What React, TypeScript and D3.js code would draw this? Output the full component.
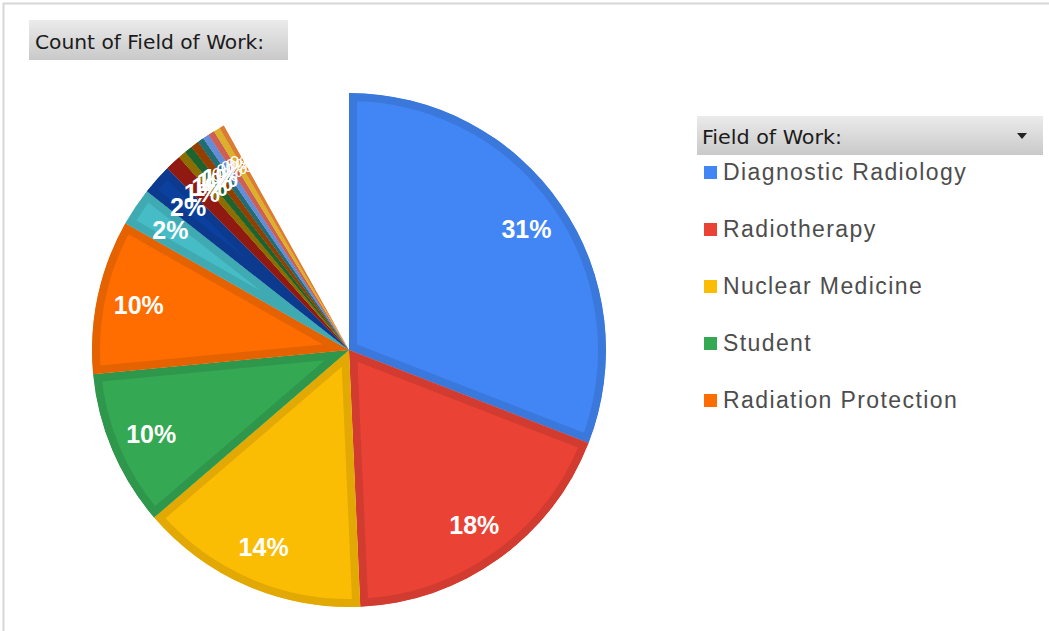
import React, { Component } from "react";
import * as d3 from "d3";

// counts per field of work (total 1000)
const categories = [
	"Diagnostic Radiology",
	"Radiotherapy",
	"Nuclear Medicine",
	"Student",
	"Radiation Protection",
	"Medical Physics",
	"Research",
	"Education",
	"Industry",
	"Regulatory",
	"Engineering",
	"Academia",
	"Veterinary",
	"Dentistry",
	"Management",
	"Other",
	"(blank)",
];
const counts = [309, 184, 144, 98, 97, 24, 19, 10, 5, 5, 5, 4, 4, 4, 4, 3, 81];
const colors = [
	"#4285F4",
	"#EA4335",
	"#FBBC04",
	"#34A853",
	"#FF6D01",
	"#46BDC6",
	"#0C409F",
	"#A01C14",
	"#9C7A00",
	"#1F6E34",
	"#A54600",
	"#26787F",
	"#6E9DF0",
	"#E46A5E",
	"#F4C430",
	"#F58A3A",
	"#FFFFFF",
];
const legendCount = 5;
const chartTitle = "Count of Field of Work:";
const legendTitle = "Field of Work:";

class App extends Component {
	constructor(props) {
		super(props);
		this.ref = React.createRef();
	}

	componentDidMount() {
		this.renderChart();
	}

	renderChart() {
		const width = 1049;
		const height = 631;
		const cx = 349;
		const cy = 350;
		const radius = 257;

		const root = d3.select(this.ref.current);
		root.selectAll("*").remove();

		const svg = root
			.append("svg")
			.attr("width", width)
			.attr("height", height)
			.style("display", "block");

		// frame
		svg.append("path")
			.attr("d", `M3.5,${height} V3.5 H${width}`)
			.attr("fill", "none")
			.attr("stroke", "#d6d6d6")
			.attr("stroke-width", 2);

		const defs = svg.append("defs");
		const grad = defs
			.append("linearGradient")
			.attr("id", "hdr")
			.attr("x1", 0)
			.attr("y1", 0)
			.attr("x2", 0)
			.attr("y2", 1);
		grad.append("stop").attr("offset", "0%").attr("stop-color", "#ebebeb");
		grad.append("stop").attr("offset", "100%").attr("stop-color", "#c9c9c9");

		const hdrFont = "Tahoma, 'DejaVu Sans Condensed', 'Liberation Sans', sans-serif";

		// title box
		svg.append("rect")
			.attr("x", 29)
			.attr("y", 20)
			.attr("width", 259)
			.attr("height", 40)
			.attr("fill", "url(#hdr)");
		svg.append("text")
			.attr("x", 35)
			.attr("y", 49)
			.attr("font-family", hdrFont)
			.attr("font-size", 20)
			.attr("fill", "#1b1b1b")
			.attr("textLength", 229)
			.attr("lengthAdjust", "spacingAndGlyphs")
			.text(chartTitle);

		const pie = d3
			.pie()
			.sort(null)
			.value((d) => d);
		const arcs = pie(counts);
		const total = d3.sum(counts);

		const arc = d3.arc().innerRadius(0).outerRadius(radius);
		const labelArc = d3.arc().innerRadius(215).outerRadius(215);

		const g = svg.append("g").attr("transform", `translate(${cx},${cy})`);

		arcs.forEach((a, i) => {
			const base = colors[i];
			if (base === "#FFFFFF") return;
			defs.append("clipPath")
				.attr("id", `clip${i}`)
				.append("path")
				.attr("d", arc(a));
			g.append("path")
				.attr("d", arc(a))
				.attr("fill", base)
				.attr("stroke", d3.color(base).darker(0.3).formatHex())
				.attr("stroke-width", 16)
				.attr("clip-path", `url(#clip${i})`);
		});

		// percentage labels (the tiny slices pile up, as in the original)
		arcs.forEach((a, i) => {
			if (colors[i] === "#FFFFFF") return;
			const pct = Math.round((a.data / total) * 100);
			const [lx, ly] = labelArc.centroid(a);
			const small = pct < 1;
			g.append("text")
				.attr("x", lx)
				.attr("y", ly)
				.attr("text-anchor", "middle")
				.attr("dominant-baseline", "central")
				.attr("font-family", "'Liberation Sans', Arial, sans-serif")
				.attr("font-weight", small ? "normal" : "bold")
				.attr("font-size", small ? 18 : 25)
				.attr("fill", "#ffffff")
				.text(`${pct}%`);
		});

		// legend header
		svg.append("rect")
			.attr("x", 697)
			.attr("y", 116)
			.attr("width", 346)
			.attr("height", 39)
			.attr("fill", "url(#hdr)");
		svg.append("text")
			.attr("x", 702)
			.attr("y", 144)
			.attr("font-family", hdrFont)
			.attr("font-size", 20)
			.attr("fill", "#1b1b1b")
			.attr("textLength", 140)
			.attr("lengthAdjust", "spacingAndGlyphs")
			.text(legendTitle);
		svg.append("path")
			.attr("d", "M1017,133 L1027,133 L1022,139 Z")
			.attr("fill", "#222");

		const legendY = d3
			.scalePoint()
			.domain(categories.slice(0, legendCount))
			.range([172, 400]);

		const items = svg
			.append("g")
			.selectAll("g")
			.data(categories.slice(0, legendCount))
			.join("g")
			.attr("transform", (d) => `translate(704,${legendY(d)})`);

		items.append("rect")
			.attr("x", 0)
			.attr("y", -6)
			.attr("width", 13)
			.attr("height", 13)
			.attr("fill", (d, i) => colors[i]);

		items.append("text")
			.attr("x", 19)
			.attr("y", 0)
			.attr("dominant-baseline", "central")
			.attr("font-family", "'Liberation Sans', Arial, sans-serif")
			.attr("font-size", 23)
			.attr("letter-spacing", 1.4)
			.attr("fill", "#4d4d4d")
			.text((d) => d);
	}

	render() {
		return (
			<div style={{ position: "absolute", left: 0, top: 0 }}>
				<div ref={this.ref}></div>
			</div>
		);
	}
}

export default App;
